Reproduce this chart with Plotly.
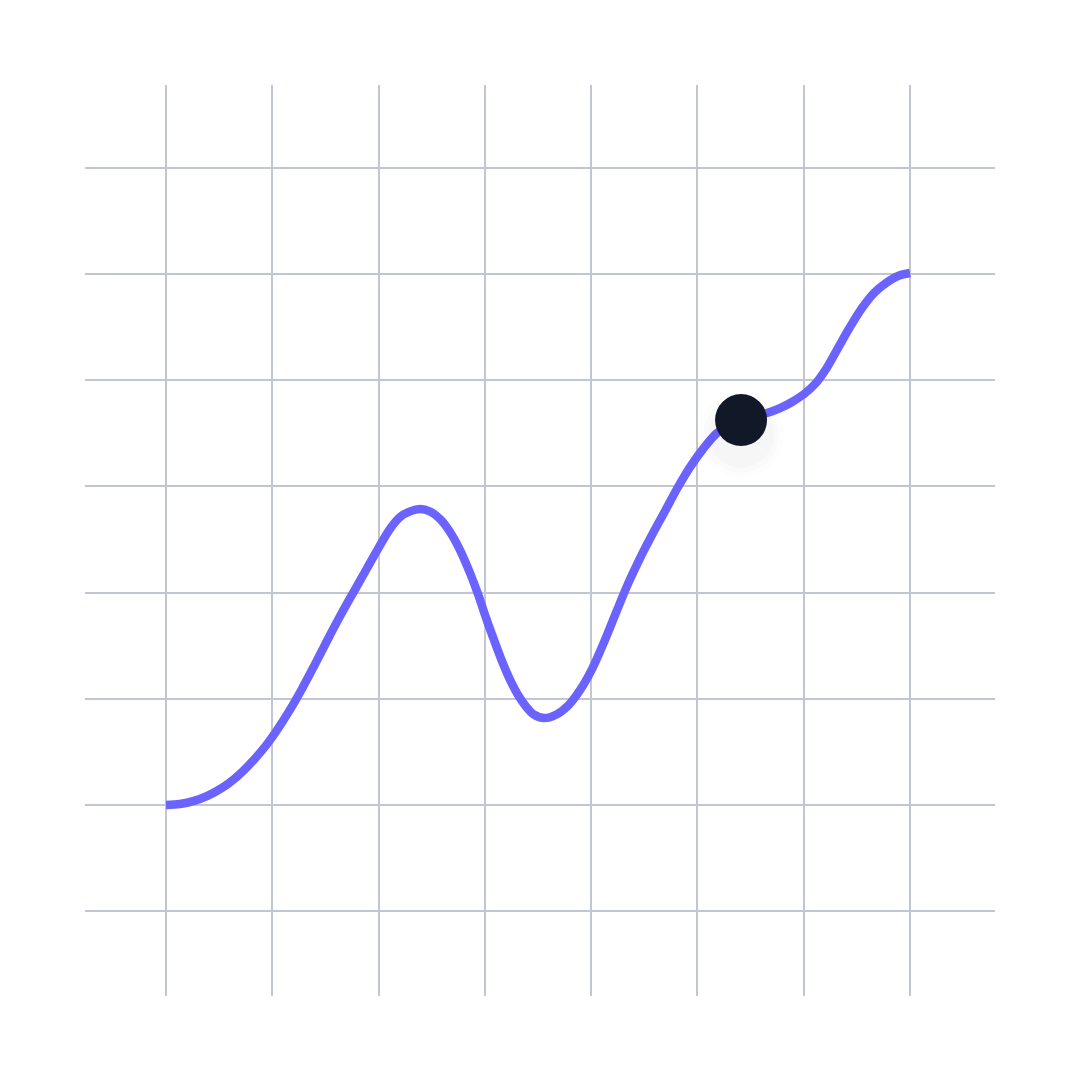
import plotly.graph_objects as go

# Curve values (grid units: x columns 0..7, y rows 0..7 from bottom)
curve_x = [0.000, 0.132, 0.263, 0.395, 0.527, 0.659, 0.790, 0.913, 1.035, 1.157,
           1.280, 1.402, 1.524, 1.646, 1.759, 1.882, 2.004, 2.107, 2.202, 2.296,
           2.390, 2.484, 2.578, 2.672, 2.766, 2.860, 2.935, 3.011, 3.086, 3.161,
           3.236, 3.312, 3.387, 3.462, 3.556, 3.669, 3.782, 3.895, 4.008, 4.121,
           4.234, 4.347, 4.460, 4.572, 4.695, 4.817, 4.930, 5.052, 5.184, 5.297,
           5.410, 5.532, 5.654, 5.777, 5.890, 6.003, 6.106, 6.210, 6.322, 6.435,
           6.548, 6.661, 6.774, 6.887, 7.000]
curve_y = [1.000, 1.009, 1.038, 1.088, 1.160, 1.259, 1.385, 1.525, 1.691, 1.881,
           2.095, 2.326, 2.563, 2.793, 2.996, 3.213, 3.429, 3.600, 3.712, 3.765,
           3.787, 3.764, 3.693, 3.571, 3.401, 3.185, 2.987, 2.761, 2.553, 2.355,
           2.180, 2.035, 1.927, 1.850, 1.818, 1.850, 1.935, 2.082, 2.280, 2.534,
           2.812, 3.085, 3.326, 3.543, 3.769, 3.995, 4.183, 4.353, 4.504, 4.579,
           4.626, 4.659, 4.692, 4.739, 4.796, 4.871, 4.965, 5.107, 5.304, 5.502,
           5.681, 5.823, 5.917, 5.983, 6.011]

# Highlighted point
dot_x = [5.410]
dot_y = [4.626]
shadow_drop = 0.14

grid_ticks = [0, 1, 2, 3, 4, 5, 6, 7]

LINE = "#6a63ff"
DOT = "#111827"
GRID = "#c2c6d3"

fig = go.Figure()

fig.add_trace(go.Scatter(
    x=curve_x, y=curve_y, mode="lines",
    line=dict(color=LINE, width=8.5, shape="spline", smoothing=1.0, simplify=False),
    hoverinfo="skip", showlegend=False,
))

# very soft shadow under the dot
for size, alpha in [(86, 0.008), (76, 0.011), (66, 0.014)]:
    fig.add_trace(go.Scatter(
        x=dot_x, y=[v - shadow_drop for v in dot_y], mode="markers",
        marker=dict(size=size, color=f"rgba(17,24,39,{alpha})", line=dict(width=0)),
        hoverinfo="skip", showlegend=False,
    ))

fig.add_trace(go.Scatter(
    x=dot_x, y=dot_y, mode="markers",
    marker=dict(size=52, color=DOT, line=dict(width=0)),
    hoverinfo="skip", showlegend=False,
))

axis_common = dict(
    showgrid=True, gridcolor=GRID, gridwidth=2,
    zeroline=False, showline=False, showticklabels=False,
    ticks="", tickmode="array", tickvals=grid_ticks, fixedrange=True,
)

# page body adds an 8px offset; margins compensate so the plot area spans 85..995
fig.update_layout(
    width=1080, height=1080,
    margin=dict(l=77, r=93, t=77, b=92),
    paper_bgcolor="white", plot_bgcolor="white",
    xaxis=dict(range=[-0.762, 7.799], **axis_common),
    yaxis=dict(range=[-0.80, 7.782], **axis_common),
    showlegend=False,
)

fig.write_html("out.html")
